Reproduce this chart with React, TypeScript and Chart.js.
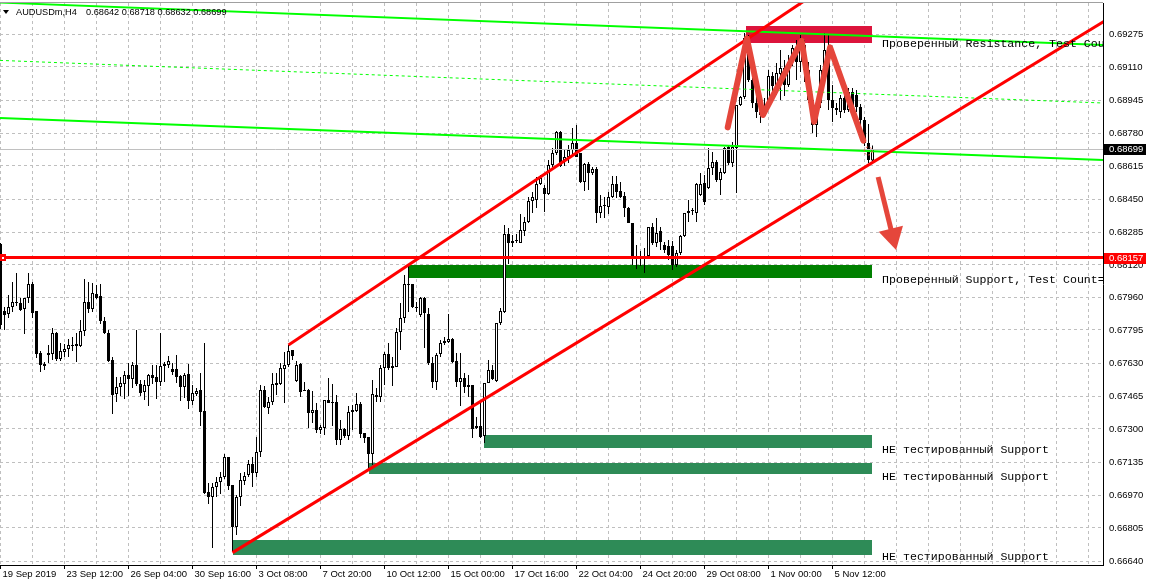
import React, { useEffect, useRef } from 'react';
import { Chart, registerables } from 'chart.js';

Chart.register(...registerables);

const symbolName = 'AUDUSDm,H4';

const opens = [
  0.68225, 0.67890, 0.67875, 0.67910, 0.67930, 0.67930, 0.67900, 0.67955, 0.68025, 0.67890,
  0.67680, 0.67625, 0.67670, 0.67675, 0.67780, 0.67650, 0.67685, 0.67700, 0.67720, 0.67725,
  0.67715, 0.67790, 0.67935, 0.67900, 0.67975, 0.67965, 0.67840, 0.67780, 0.67645, 0.67475,
  0.67510, 0.67525, 0.67570, 0.67550, 0.67620, 0.67525, 0.67485, 0.67515, 0.67570, 0.67560,
  0.67535, 0.67615, 0.67620, 0.67600, 0.67600, 0.67565, 0.67510, 0.67575, 0.67440, 0.67475,
  0.67495, 0.67390, 0.66985, 0.66960, 0.67010, 0.67035, 0.67060, 0.67160, 0.67020, 0.66810,
  0.66960, 0.67040, 0.67070, 0.67125, 0.67080, 0.67185, 0.67495, 0.67405, 0.67435, 0.67530,
  0.67525, 0.67600, 0.67620, 0.67695, 0.67540, 0.67625, 0.67495, 0.67495, 0.67380, 0.67395,
  0.67295, 0.67305, 0.67445, 0.67435, 0.67435, 0.67245, 0.67300, 0.67265, 0.67395, 0.67390,
  0.67425, 0.67280, 0.67260, 0.67175, 0.67470, 0.67460, 0.67605, 0.67675, 0.67615, 0.67610,
  0.67785, 0.67855, 0.68025, 0.68025, 0.67910, 0.67870, 0.67955, 0.67875, 0.67630, 0.67535,
  0.67675, 0.67730, 0.67735, 0.67750, 0.67640, 0.67535, 0.67555, 0.67510, 0.67520, 0.67305,
  0.67315, 0.67265, 0.67530, 0.67595, 0.67540, 0.67830, 0.67885, 0.68275, 0.68230, 0.68240,
  0.68230, 0.68290, 0.68335, 0.68440, 0.68445, 0.68525, 0.68505, 0.68475, 0.68620, 0.68680,
  0.68785, 0.68645, 0.68660, 0.68695, 0.68730, 0.68680, 0.68535, 0.68625, 0.68580, 0.68600,
  0.68380, 0.68415, 0.68410, 0.68460, 0.68525, 0.68490, 0.68465, 0.68405, 0.68330, 0.68160,
  0.68165, 0.68160, 0.68165, 0.68310, 0.68230, 0.68290, 0.68220, 0.68215, 0.68215, 0.68120,
  0.68180, 0.68265, 0.68380, 0.68390, 0.68380, 0.68470, 0.68530, 0.68505, 0.68605, 0.68635,
  0.68545, 0.68580, 0.68710, 0.68630, 0.68705, 0.68920, 0.68960, 0.69245, 0.69045, 0.68930,
  0.68885, 0.68870, 0.68915, 0.69065, 0.69015, 0.69075, 0.69105, 0.69020, 0.69135, 0.69205,
  0.69135, 0.69220, 0.69095, 0.68945, 0.68820, 0.68930, 0.69095, 0.69185, 0.68945, 0.68905,
  0.68885, 0.68955, 0.68895, 0.68985, 0.68970, 0.68910, 0.68845, 0.68730, 0.68642,
];

const highs = [
  0.68230, 0.67910, 0.67970, 0.68035, 0.68080, 0.67955, 0.67955, 0.68080, 0.68035, 0.67890,
  0.67690, 0.67635, 0.67720, 0.67805, 0.67785, 0.67730, 0.67725, 0.67750, 0.67760, 0.67780,
  0.67845, 0.68050, 0.68035, 0.68030, 0.68020, 0.68025, 0.67860, 0.67795, 0.67660, 0.67560,
  0.67560, 0.67590, 0.67630, 0.67635, 0.67795, 0.67545, 0.67545, 0.67575, 0.67620, 0.67620,
  0.67780, 0.67635, 0.67665, 0.67630, 0.67670, 0.67570, 0.67580, 0.67625, 0.67520, 0.67505,
  0.67580, 0.67730, 0.67030, 0.67030, 0.67060, 0.67085, 0.67175, 0.67160, 0.67020, 0.66970,
  0.67080, 0.67085, 0.67145, 0.67160, 0.67260, 0.67520, 0.67515, 0.67460, 0.67580, 0.67580,
  0.67630, 0.67685, 0.67720, 0.67695, 0.67640, 0.67630, 0.67535, 0.67500, 0.67490, 0.67430,
  0.67320, 0.67445, 0.67555, 0.67525, 0.67470, 0.67345, 0.67305, 0.67415, 0.67420, 0.67480,
  0.67435, 0.67280, 0.67260, 0.67545, 0.67505, 0.67620, 0.67685, 0.67730, 0.67660, 0.67805,
  0.67930, 0.68070, 0.68120, 0.68025, 0.67935, 0.67960, 0.67960, 0.67905, 0.67660, 0.67680,
  0.67745, 0.67760, 0.67875, 0.67755, 0.67680, 0.67680, 0.67580, 0.67570, 0.67520, 0.67360,
  0.67430, 0.67530, 0.67645, 0.67620, 0.67830, 0.67905, 0.68320, 0.68305, 0.68270, 0.68275,
  0.68375, 0.68360, 0.68460, 0.68485, 0.68560, 0.68570, 0.68520, 0.68645, 0.68705, 0.68790,
  0.68790, 0.68695, 0.68720, 0.68805, 0.68820, 0.68680, 0.68630, 0.68635, 0.68610, 0.68610,
  0.68470, 0.68460, 0.68485, 0.68565, 0.68565, 0.68535, 0.68485, 0.68410, 0.68330, 0.68220,
  0.68190, 0.68205, 0.68310, 0.68330, 0.68355, 0.68310, 0.68235, 0.68245, 0.68240, 0.68195,
  0.68270, 0.68380, 0.68445, 0.68405, 0.68530, 0.68580, 0.68570, 0.68705, 0.68685, 0.68645,
  0.68605, 0.68710, 0.68720, 0.68735, 0.68920, 0.68965, 0.69280, 0.69270, 0.69055, 0.68970,
  0.68945, 0.68955, 0.69095, 0.69085, 0.69130, 0.69195, 0.69145, 0.69170, 0.69220, 0.69245,
  0.69270, 0.69245, 0.69135, 0.68955, 0.68945, 0.69120, 0.69280, 0.69270, 0.69020, 0.68930,
  0.68970, 0.68985, 0.69005, 0.69005, 0.68995, 0.68925, 0.68860, 0.68825, 0.68718,
];

const lows = [
  0.67800, 0.67795, 0.67855, 0.67885, 0.67915, 0.67890, 0.67775, 0.67930, 0.67855, 0.67655,
  0.67585, 0.67595, 0.67630, 0.67645, 0.67640, 0.67640, 0.67660, 0.67660, 0.67690, 0.67635,
  0.67710, 0.67765, 0.67880, 0.67885, 0.67950, 0.67825, 0.67775, 0.67635, 0.67375, 0.67435,
  0.67465, 0.67450, 0.67465, 0.67505, 0.67515, 0.67465, 0.67445, 0.67415, 0.67525, 0.67450,
  0.67515, 0.67535, 0.67605, 0.67570, 0.67530, 0.67440, 0.67455, 0.67400, 0.67420, 0.67465,
  0.67315, 0.66975, 0.66925, 0.66705, 0.66960, 0.66975, 0.67050, 0.66995, 0.66690, 0.66770,
  0.66915, 0.67020, 0.67060, 0.67010, 0.67060, 0.67160, 0.67405, 0.67375, 0.67420, 0.67470,
  0.67520, 0.67430, 0.67610, 0.67645, 0.67535, 0.67460, 0.67490, 0.67305, 0.67330, 0.67280,
  0.67275, 0.67270, 0.67430, 0.67315, 0.67220, 0.67220, 0.67255, 0.67245, 0.67295, 0.67385,
  0.67255, 0.67230, 0.67095, 0.67120, 0.67435, 0.67435, 0.67520, 0.67595, 0.67515, 0.67610,
  0.67695, 0.67830, 0.67885, 0.67905, 0.67885, 0.67860, 0.67705, 0.67620, 0.67505, 0.67495,
  0.67660, 0.67720, 0.67730, 0.67630, 0.67510, 0.67415, 0.67480, 0.67460, 0.67255, 0.67300,
  0.67255, 0.67230, 0.67530, 0.67545, 0.67535, 0.67820, 0.67880, 0.68125, 0.68210, 0.68230,
  0.68230, 0.68265, 0.68330, 0.68380, 0.68405, 0.68520, 0.68385, 0.68470, 0.68610, 0.68670,
  0.68610, 0.68615, 0.68630, 0.68660, 0.68660, 0.68530, 0.68490, 0.68495, 0.68570, 0.68330,
  0.68355, 0.68355, 0.68375, 0.68455, 0.68455, 0.68455, 0.68360, 0.68330, 0.68120, 0.68100,
  0.68115, 0.68080, 0.68160, 0.68220, 0.68210, 0.68195, 0.68180, 0.68145, 0.68095, 0.68110,
  0.68170, 0.68260, 0.68335, 0.68370, 0.68335, 0.68465, 0.68420, 0.68500, 0.68570, 0.68535,
  0.68470, 0.68575, 0.68620, 0.68610, 0.68480, 0.68915, 0.68950, 0.69035, 0.68905, 0.68855,
  0.68830, 0.68865, 0.68895, 0.68955, 0.68970, 0.68945, 0.68965, 0.69010, 0.69115, 0.69045,
  0.69085, 0.69035, 0.68930, 0.68780, 0.68760, 0.68905, 0.69085, 0.68895, 0.68835, 0.68870,
  0.68855, 0.68880, 0.68885, 0.68885, 0.68885, 0.68810, 0.68715, 0.68630, 0.68632,
];

const closes = [
  0.67820, 0.67870, 0.67910, 0.67935, 0.67935, 0.67895, 0.67955, 0.68025, 0.67880, 0.67675,
  0.67620, 0.67615, 0.67680, 0.67780, 0.67650, 0.67690, 0.67700, 0.67720, 0.67715, 0.67715,
  0.67790, 0.67935, 0.67900, 0.67980, 0.67955, 0.67840, 0.67780, 0.67640, 0.67470, 0.67510,
  0.67530, 0.67570, 0.67550, 0.67620, 0.67525, 0.67480, 0.67520, 0.67570, 0.67555, 0.67535,
  0.67615, 0.67625, 0.67640, 0.67585, 0.67560, 0.67510, 0.67570, 0.67440, 0.67480, 0.67490,
  0.67385, 0.66980, 0.66960, 0.67010, 0.67035, 0.67060, 0.67160, 0.67015, 0.66810, 0.66960,
  0.67045, 0.67065, 0.67125, 0.67080, 0.67185, 0.67495, 0.67410, 0.67435, 0.67525, 0.67520,
  0.67605, 0.67620, 0.67690, 0.67665, 0.67620, 0.67485, 0.67490, 0.67380, 0.67395, 0.67295,
  0.67310, 0.67445, 0.67430, 0.67430, 0.67245, 0.67300, 0.67265, 0.67385, 0.67385, 0.67425,
  0.67275, 0.67255, 0.67175, 0.67475, 0.67460, 0.67605, 0.67675, 0.67605, 0.67605, 0.67785,
  0.67855, 0.68025, 0.68020, 0.67910, 0.67905, 0.67955, 0.67880, 0.67630, 0.67535, 0.67670,
  0.67730, 0.67740, 0.67750, 0.67635, 0.67535, 0.67555, 0.67510, 0.67520, 0.67300, 0.67315,
  0.67260, 0.67530, 0.67595, 0.67550, 0.67830, 0.67890, 0.68275, 0.68230, 0.68240, 0.68245,
  0.68295, 0.68335, 0.68440, 0.68460, 0.68525, 0.68555, 0.68475, 0.68620, 0.68680, 0.68785,
  0.68615, 0.68660, 0.68695, 0.68730, 0.68660, 0.68535, 0.68625, 0.68580, 0.68600, 0.68380,
  0.68415, 0.68420, 0.68460, 0.68525, 0.68485, 0.68460, 0.68405, 0.68330, 0.68160, 0.68165,
  0.68160, 0.68165, 0.68310, 0.68230, 0.68280, 0.68235, 0.68195, 0.68170, 0.68120, 0.68180,
  0.68265, 0.68380, 0.68390, 0.68395, 0.68525, 0.68525, 0.68435, 0.68605, 0.68635, 0.68545,
  0.68585, 0.68705, 0.68630, 0.68710, 0.68920, 0.68960, 0.69255, 0.69045, 0.68930, 0.68885,
  0.68870, 0.68915, 0.69065, 0.69015, 0.69080, 0.69105, 0.69020, 0.69135, 0.69205, 0.69135,
  0.69220, 0.69095, 0.68945, 0.68820, 0.68930, 0.69095, 0.69195, 0.68945, 0.68905, 0.68895,
  0.68955, 0.68895, 0.68985, 0.68905, 0.68910, 0.68845, 0.68730, 0.68645, 0.68699,
];

const timeTickBars = [0, 16, 32, 48, 64, 80, 96, 112, 128, 144, 160, 176, 192, 208];
const timeTickLabels = [
  '19 Sep 2019', '23 Sep 12:00', '26 Sep 04:00', '30 Sep 16:00', '3 Oct 08:00', '7 Oct 20:00',
  '10 Oct 12:00', '15 Oct 00:00', '17 Oct 16:00', '22 Oct 04:00', '24 Oct 20:00', '29 Oct 08:00',
  '1 Nov 00:00', '5 Nov 12:00',
];
const priceTicks = [
  0.69275, 0.6911, 0.68945, 0.6878, 0.68615, 0.6845, 0.68285, 0.6812, 0.6796, 0.67795,
  0.6763, 0.67465, 0.673, 0.67135, 0.6697, 0.66805, 0.6664,
];

const supportLevel = 0.68157;
const bidPrice = 0.68699;

const zoneStartBars = [186.4, 102.2, 120.9, 92.2, 58.2];
const zoneEndBars = [217.9, 217.9, 217.9, 217.9, 217.9];
const zoneTops = [0.69315, 0.6812, 0.6727, 0.6713, 0.66745];
const zoneBottoms = [0.6923, 0.68053, 0.67205, 0.67075, 0.6667];
const zoneLabels = [
  'Проверенный Resistance, Test Count=2',
  'Проверенный Support, Test Count=3',
  'НЕ тестированный Support',
  'НЕ тестированный Support',
  'НЕ тестированный Support',
];
const zoneLabelPrices = [0.69212, 0.68032, 0.67179, 0.67045, 0.66645];
const zoneLabelBar = 220.4;
const zoneColors = ['#dc143c', '#008000', '#2e8b57', '#2e8b57', '#2e8b57'];

const regBars = [-0.125, 275.625];
const regUpper = [0.69432, 0.6922];
const regMiddle = [0.69143, 0.6893];
const regLower = [0.68855, 0.68645];

const channelUpperBars = [72, 200];
const channelUpperPrices = [0.6772, 0.69428];
const channelLowerBars = [58, 275.6];
const channelLowerPrices = [0.66682, 0.69335];

const patternBars = [181.8, 186.6, 190.6, 200.3, 203.4, 207.4, 215.7];
const patternPrices = [0.68808, 0.69253, 0.6887, 0.69241, 0.68836, 0.69208, 0.68742];

const arrowBars = [219.4, 223.9];
const arrowPrices = [0.6856, 0.68195];

const markerBar = 216.9;
const markerPrice = 0.6869;

const FONT = '"Liberation Sans", Arial, sans-serif';

function line(ctx: any, x1: number, y1: number, x2: number, y2: number) {
  ctx.beginPath();
  ctx.moveTo(x1, y1);
  ctx.lineTo(x2, y2);
  ctx.stroke();
}

const overlayPlugin = {
  id: 'overlay',
  beforeDatasetsDraw(chart: any) {
    const { ctx, chartArea: a, scales } = chart;
    const xs = scales.x;
    const ys = scales.y;
    ctx.save();
    ctx.beginPath();
    ctx.rect(a.left, a.top, a.right - a.left, a.bottom - a.top);
    ctx.clip();
    zoneStartBars.forEach((b, k) => {
      const x1 = Math.round(xs.getPixelForValue(b));
      const x2 = Math.round(xs.getPixelForValue(zoneEndBars[k]));
      const y1 = Math.round(ys.getPixelForValue(zoneTops[k]));
      const y2 = Math.round(ys.getPixelForValue(zoneBottoms[k]));
      ctx.fillStyle = zoneColors[k];
      ctx.fillRect(x1, y1, x2 - x1, y2 - y1);
    });
    ctx.restore();
  },
  afterDatasetsDraw(chart: any) {
    const { ctx, chartArea: a, scales } = chart;
    const xs = scales.x;
    const ys = scales.y;
    const px = (v: number) => xs.getPixelForValue(v);
    const py = (v: number) => ys.getPixelForValue(v);
    ctx.save();
    ctx.beginPath();
    ctx.rect(a.left, a.top, a.right - a.left, a.bottom - a.top);
    ctx.clip();

    // bid line
    ctx.strokeStyle = '#c0c0c0';
    ctx.lineWidth = 1;
    const by = Math.round(py(bidPrice)) + 0.5;
    line(ctx, a.left, by, a.right, by);

    // regression channel
    ctx.strokeStyle = '#00ff00';
    ctx.lineWidth = 2;
    line(ctx, px(regBars[0]), py(regUpper[0]), px(regBars[1]), py(regUpper[1]));
    line(ctx, px(regBars[0]), py(regLower[0]), px(regBars[1]), py(regLower[1]));
    ctx.lineWidth = 1;
    ctx.setLineDash([3, 3]);
    line(ctx, px(regBars[0]), py(regMiddle[0]), px(regBars[1]), py(regMiddle[1]));
    ctx.setLineDash([]);

    // support level
    ctx.strokeStyle = '#ff0000';
    ctx.lineWidth = 3;
    const sy = py(supportLevel);
    line(ctx, a.left, sy, a.right, sy);
    ctx.fillStyle = '#ff0000';
    ctx.fillRect(a.left, Math.round(sy) - 4, 6, 7);
    ctx.fillStyle = '#ffffff';
    ctx.fillRect(a.left + 2, Math.round(sy) - 1, 2, 2);

    // trend channel rays
    const ray = (bars: number[], prices: number[]) => {
      const x1 = px(bars[0]);
      const y1 = py(prices[0]);
      const x2 = px(bars[1]);
      const y2 = py(prices[1]);
      line(ctx, x1, y1, x1 + (x2 - x1) * 5, y1 + (y2 - y1) * 5);
    };
    ctx.strokeStyle = '#ff0000';
    ctx.lineWidth = 3;
    ray(channelUpperBars, channelUpperPrices);
    ray(channelLowerBars, channelLowerPrices);

    // M pattern
    ctx.strokeStyle = '#e5463b';
    ctx.lineWidth = 6;
    ctx.lineCap = 'round';
    ctx.lineJoin = 'round';
    ctx.beginPath();
    patternBars.forEach((b, k) => {
      const x = px(b);
      const y = py(patternPrices[k]);
      if (k === 0) ctx.moveTo(x, y);
      else ctx.lineTo(x, y);
    });
    ctx.stroke();

    // arrow
    const ax1 = px(arrowBars[0]);
    const ay1 = py(arrowPrices[0]);
    const ax2 = px(arrowBars[1]);
    const ay2 = py(arrowPrices[1]);
    const len = Math.hypot(ax2 - ax1, ay2 - ay1);
    const ux = (ax2 - ax1) / len;
    const uy = (ay2 - ay1) / len;
    const headLen = 22;
    const half = 12.5;
    const bx = ax2 - ux * headLen;
    const byy = ay2 - uy * headLen;
    ctx.lineWidth = 5;
    ctx.lineCap = 'butt';
    line(ctx, ax1, ay1, bx + ux * 2, byy + uy * 2);
    ctx.fillStyle = '#e5463b';
    ctx.beginPath();
    ctx.moveTo(ax2, ay2);
    ctx.lineTo(bx - uy * half, byy + ux * half);
    ctx.lineTo(bx + uy * half, byy - ux * half);
    ctx.closePath();
    ctx.fill();

    // small marker circle
    ctx.strokeStyle = '#e5463b';
    ctx.lineWidth = 1;
    ctx.setLineDash([2, 2]);
    ctx.beginPath();
    ctx.arc(px(markerBar), py(markerPrice), 4, 0, Math.PI * 2);
    ctx.stroke();
    ctx.setLineDash([]);

    // zone labels
    ctx.fillStyle = '#000000';
    ctx.font = '11.6px "Liberation Mono", "Courier New", monospace';
    ctx.textAlign = 'left';
    ctx.textBaseline = 'alphabetic';
    zoneLabels.forEach((t, k) => {
      ctx.fillText(t, px(zoneLabelBar), py(zoneLabelPrices[k]));
    });
    ctx.restore();
  },
  afterDraw(chart: any) {
    const { ctx, chartArea: a, scales } = chart;
    const ys = scales.y;
    ctx.save();
    // top frame
    ctx.fillStyle = '#a0a0a0';
    ctx.fillRect(0, a.top - 1, a.right, 1);

    // title
    ctx.fillStyle = '#000000';
    ctx.beginPath();
    ctx.moveTo(3, 10);
    ctx.lineTo(9, 10);
    ctx.lineTo(6, 14);
    ctx.closePath();
    ctx.fill();
    ctx.font = '9.2px ' + FONT;
    ctx.textBaseline = 'middle';
    ctx.textAlign = 'left';
    const last = closes.length - 1;
    ctx.fillText(symbolName, 16, 12);
    ctx.fillText(
      [opens[last], highs[last], lows[last], closes[last]].map((v) => v.toFixed(5)).join(' '),
      86,
      12
    );

    // price boxes
    ctx.font = '9.5px ' + FONT;
    const box = (price: number, bg: string) => {
      const y = Math.round(ys.getPixelForValue(price));
      ctx.fillStyle = bg;
      ctx.fillRect(a.right + 1, y - 5, 42, 11);
      ctx.fillStyle = '#ffffff';
      ctx.fillText(price.toFixed(5), a.right + 6, y + 0.5);
    };
    box(supportLevel, '#ff0000');
    box(bidPrice, '#000000');
    ctx.restore();
  },
};

export default function App() {
  const ref = useRef<HTMLCanvasElement>(null);

  useEffect(() => {
    const canvas = ref.current;
    if (!canvas) return;
    const idx = closes.map((_, i) => i);
    const bull = closes.map((c, i) => c >= opens[i]);
    const chart = new Chart(canvas, {
      type: 'bar',
      data: {
        datasets: [
          {
            label: 'body',
            data: idx.map((i) => ({ x: i, y: [opens[i], closes[i]] })) as any,
            backgroundColor: bull.map((b) => (b ? '#ffffff' : '#000000')),
            borderColor: '#000000',
            borderWidth: 1,
            borderSkipped: false,
            grouped: false,
            barPercentage: 1,
            categoryPercentage: 1,
            maxBarThickness: 3,
            minBarLength: 1,
            inflateAmount: 0,
            order: 1,
          } as any,
          {
            label: 'wick',
            data: idx.map((i) => ({ x: i, y: [lows[i], highs[i]] })) as any,
            backgroundColor: '#000000',
            borderWidth: 0,
            grouped: false,
            barPercentage: 1,
            categoryPercentage: 1,
            maxBarThickness: 1,
            minBarLength: 1,
            inflateAmount: 0,
            order: 2,
          } as any,
        ],
      },
      options: {
        animation: false,
        responsive: false,
        maintainAspectRatio: false,
        events: [],
        layout: { padding: { top: 3, left: 0, right: 0, bottom: 0 } },
        plugins: { legend: { display: false }, tooltip: { enabled: false } },
        scales: {
          x: {
            type: 'linear',
            min: -0.125,
            max: 275.625,
            offset: false,
            afterBuildTicks: (s: any) => {
              const t: any[] = [];
              for (let v = 0; v <= 272; v += 8) t.push({ value: v });
              s.ticks = t;
            },
            afterFit: (s: any) => {
              s.height = 20;
              s.paddingLeft = 0;
              s.paddingRight = 0;
            },
            grid: {
              offset: false,
              color: '#bfbfbf',
              lineWidth: 1,
              drawTicks: true,
              tickLength: 4,
              tickColor: (c: any) =>
                c.tick && timeTickBars.includes(c.tick.value) ? '#000000' : 'rgba(0,0,0,0)',
            },
            border: { display: true, color: '#000000', width: 1, dash: [3, 3] },
            ticks: {
              autoSkip: false,
              maxRotation: 0,
              minRotation: 0,
              align: 'start',
              labelOffset: 2,
              padding: 0,
              color: '#000000',
              font: { family: FONT, size: 9.5 },
              callback: (v: any) => {
                const k = timeTickBars.indexOf(Number(v));
                return k >= 0 ? timeTickLabels[k] : '';
              },
            },
          } as any,
          y: {
            type: 'linear',
            position: 'right',
            min: 0.6662,
            max: 0.6943,
            beginAtZero: false,
            afterBuildTicks: (s: any) => {
              s.ticks = priceTicks.map((v) => ({ value: v }));
            },
            afterFit: (s: any) => {
              s.width = 47;
              s.paddingTop = 0;
              s.paddingBottom = 0;
            },
            grid: { color: '#bfbfbf', lineWidth: 1, drawTicks: false },
            border: { display: true, color: '#000000', width: 1, dash: [3, 3] },
            ticks: {
              padding: 6,
              color: '#000000',
              font: { family: FONT, size: 9.5 },
              callback: (v: any) => Number(v).toFixed(5),
            },
          } as any,
        },
      },
      plugins: [overlayPlugin],
    });
    return () => chart.destroy();
  }, []);

  return (
    <div style={{ position: 'absolute', left: 0, top: 0, width: 1150, height: 585, background: '#ffffff' }}>
      <canvas ref={ref} width={1150} height={585} style={{ width: 1150, height: 585, display: 'block' }} />
    </div>
  );
}
